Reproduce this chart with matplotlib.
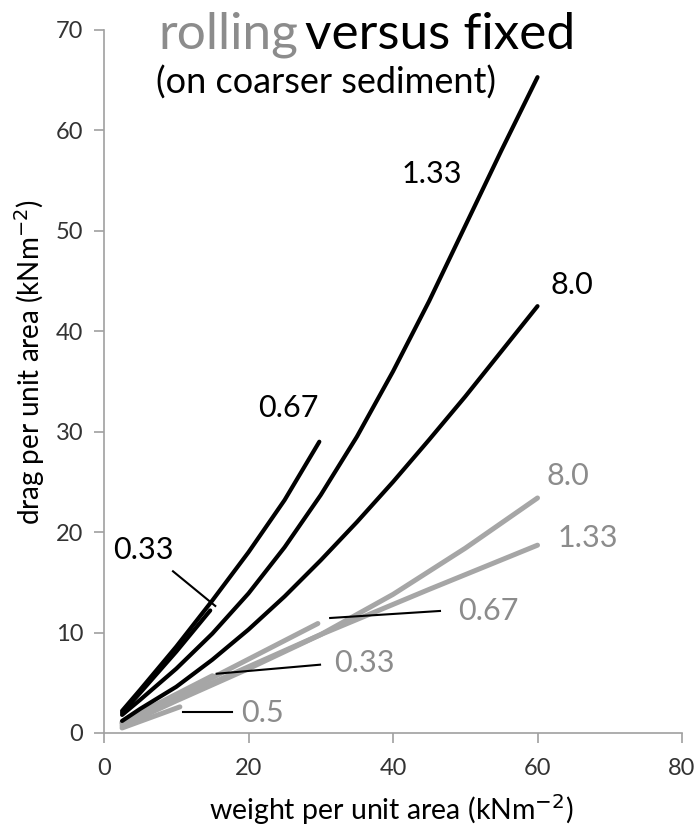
import matplotlib
matplotlib.use("Agg")
import matplotlib.pyplot as plt

plt.rcParams['font.family'] = ['Lato', 'DejaVu Sans']

# ---- data: fixed (black) curves ----
fixed_033_x = [2.5, 5, 10, 14.7]
fixed_033_y = [2.0, 4.0, 8.1, 12.2]
fixed_067_x = [2.5, 5, 10, 15, 20, 25, 29.8]
fixed_067_y = [2.2, 4.3, 8.6, 13.2, 18.0, 23.2, 29.0]
fixed_133_x = [2.5, 5, 10, 15, 20, 25, 30, 35, 40, 45, 50, 55, 60]
fixed_133_y = [1.8, 3.3, 6.4, 9.9, 13.9, 18.5, 23.7, 29.5, 36.0, 43.0, 50.5, 58.0, 65.3]
fixed_80_x = [2.5, 5, 10, 15, 20, 25, 30, 35, 40, 45, 50, 55, 60]
fixed_80_y = [1.2, 2.4, 4.6, 7.3, 10.3, 13.6, 17.2, 21.0, 25.0, 29.2, 33.5, 38.0, 42.5]

# ---- data: rolling (grey) curves ----
roll_05_x = [2.5, 10.5]
roll_05_y = [0.5, 2.6]
roll_033_x = [2.5, 15]
roll_033_y = [1.1, 5.7]
roll_067_x = [2.5, 15, 29.6]
roll_067_y = [1.0, 5.5, 10.9]
roll_133_x = [2.5, 15, 30, 45, 60]
roll_133_y = [0.9, 5.0, 9.8, 14.3, 18.7]
roll_80_x = [2.5, 10, 20, 30, 40, 50, 60]
roll_80_y = [0.7, 3.2, 6.4, 9.8, 13.8, 18.4, 23.4]

# ---- labels: (text, x, y, colour-group) ----
labels_text = ["0.33", "0.67", "1.33", "8.0", "8.0", "1.33", "0.67", "0.33", "0.5"]
labels_x = [5.4, 25.5, 45.4, 64.8, 64.2, 66.9, 53.2, 36.1, 22.0]
labels_y = [18.2, 32.4, 55.7, 44.6, 25.6, 19.4, 12.1, 7.0, 2.0]
labels_grp = ["fixed", "fixed", "fixed", "fixed", "roll", "roll", "roll", "roll", "roll"]

# leader lines (x0, y0, x1, y1)
leaders = [
    (9.55, 16.1, 15.4, 12.65),
    (31.3, 11.45, 46.5, 12.15),
    (15.6, 5.9, 29.9, 6.8),
    (10.9, 2.1, 17.7, 2.1),
]

BLACK = "#000000"
GREY_LINE = "#A6A6A6"
GREY_TEXT = "#8C8C8C"
AXIS_GREY = "#A0A0A0"

fig = plt.figure(figsize=(6.99, 8.32), dpi=100)
ax = fig.add_axes([0.1488, 0.119, 0.8269, 0.845])

roll = [(roll_05_x, roll_05_y), (roll_033_x, roll_033_y), (roll_067_x, roll_067_y),
        (roll_133_x, roll_133_y), (roll_80_x, roll_80_y)]
for xs, ys in roll:
    ax.plot(xs, ys, color=GREY_LINE, lw=3.6, solid_capstyle='round',
            solid_joinstyle='round', zorder=2)

fixed = [(fixed_033_x, fixed_033_y), (fixed_067_x, fixed_067_y),
         (fixed_133_x, fixed_133_y), (fixed_80_x, fixed_80_y)]
for xs, ys in fixed:
    ax.plot(xs, ys, color=BLACK, lw=3.0, solid_capstyle='round',
            solid_joinstyle='round', zorder=3)

for x0, y0, x1, y1 in leaders:
    ax.plot([x0, x1], [y0, y1], color=BLACK, lw=1.5, zorder=4)

for t, x, y, g in zip(labels_text, labels_x, labels_y, labels_grp):
    ax.text(x, y, t, color=BLACK if g == "fixed" else GREY_TEXT,
            fontsize=22, ha='center', va='center', zorder=5)

ax.set_xlim(0, 80)
ax.set_ylim(0, 70)
ax.set_xticks([0, 20, 40, 60, 80])
ax.set_yticks([0, 10, 20, 30, 40, 50, 60, 70])
for s in ['top', 'right']:
    ax.spines[s].set_visible(False)
for s in ['left', 'bottom']:
    ax.spines[s].set_color(AXIS_GREY)
    ax.spines[s].set_linewidth(1.2)
ax.tick_params(axis='both', colors=AXIS_GREY, labelcolor="#333333",
               labelsize=17, length=7, width=1.2)
ax.tick_params(axis='x', pad=11)
ax.tick_params(axis='y', pad=8)

fig.text(391 / 699, 1 - 810 / 832, "weight per unit area (kNm$^{-2}$)",
         fontsize=20.5, ha='center', va='center', color="#000000")
fig.text(30 / 699, 1 - 362 / 832, "drag per unit area (kNm$^{-2}$)",
         fontsize=20, ha='center', va='center', rotation=90, color="#000000")

# title in two colours
t1 = fig.text(158 / 699, 1 - 35 / 832, "rolling", fontsize=37, color=GREY_TEXT,
              ha='left', va='center')
fig.canvas.draw()
bb = t1.get_window_extent()
x_next = (bb.x1 + 7) / fig.bbox.width
fig.text(x_next, 1 - 35 / 832, "versus fixed", fontsize=37, color=BLACK,
         ha='left', va='center')
fig.text(326 / 699, 1 - 83 / 832, "(on coarser sediment)", fontsize=26,
         color=BLACK, ha='center', va='center')

fig.savefig("out.png", dpi=100)
